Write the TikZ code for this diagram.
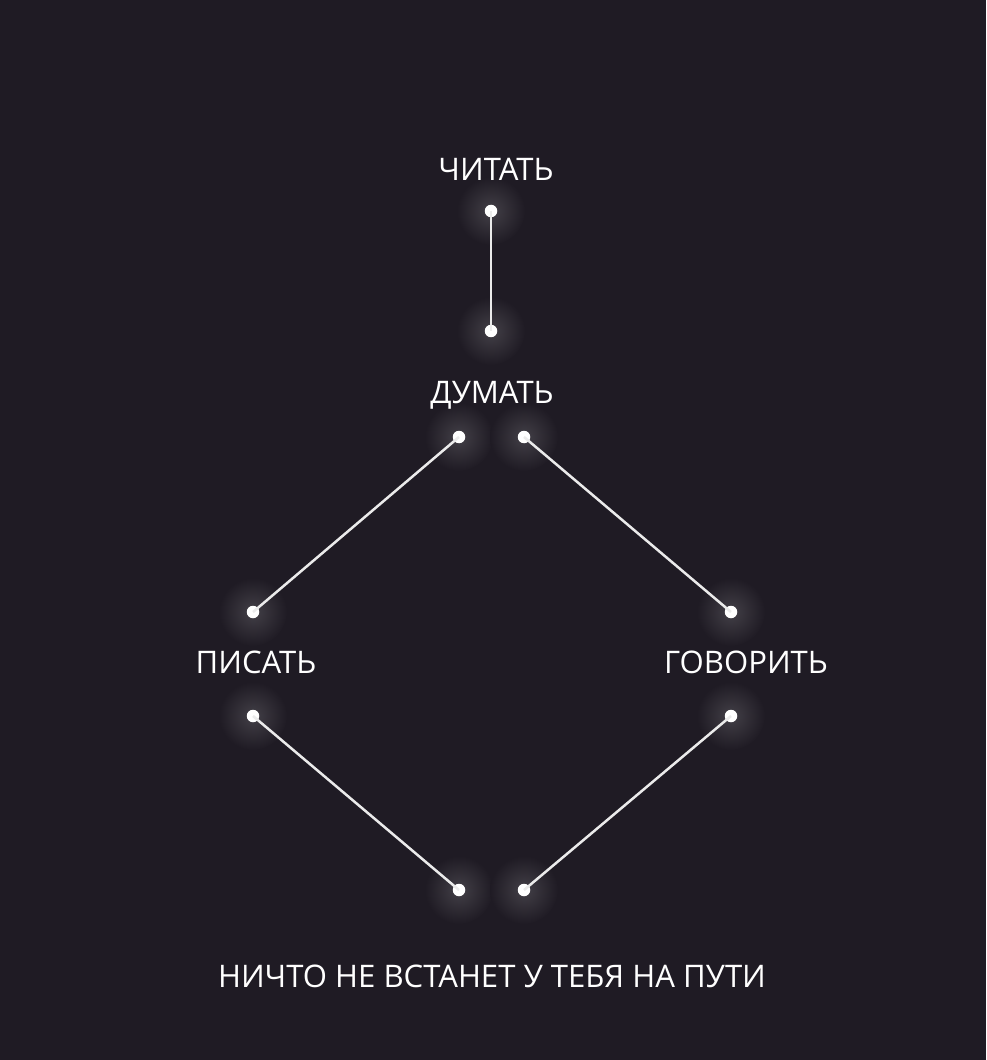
\documentclass[tikz,border=0pt]{standalone}
\usepackage{fontspec}
\setmainfont{Open Sans}
\usetikzlibrary{calc}
\definecolor{bg}{RGB}{31,27,36}
\tikzset{
  dot/.style={circle, fill=white, inner sep=0pt, minimum size=0.25cm},
  word/.style={text=white, font=\fontsize{17.7}{20}\selectfont},
  link/.style={white!92!black, line width=0.05cm}
}

\begin{document}
\begin{tikzpicture}[x=0.02cm, y=-0.02cm]
% Фон
\fill[bg] (0,0) rectangle (986,1060);

% Свечение вокруг точек
\foreach \p in {(491,211),(491,331),(459,437),(524,437),(253,612),(731,612),(253,716),(731,716),(459,890),(524,890)} {
    \shade[inner color=white!16!bg, outer color=bg] \p circle (34);
}

% Слова
\node[word] (read) at (496,169) {ЧИТАТЬ};
\node[word] (think) at (492,395) {ДУМАТЬ};
\node[word] (write) at (256,662) {ПИСАТЬ};
\node[word] (speak) at (746,662) {ГОВОРИТЬ};
\node[word] (way) at (492,976) {НИЧТО НЕ ВСТАНЕТ У ТЕБЯ НА ПУТИ};

% Точки
\node[dot] (r1) at (491,211) {};
\node[dot] (r2) at (491,331) {};
\node[dot] (t1) at (459,437) {};
\node[dot] (t2) at (524,437) {};
\node[dot] (w1) at (253,612) {};
\node[dot] (s1) at (731,612) {};
\node[dot] (w2) at (253,716) {};
\node[dot] (s2) at (731,716) {};
\node[dot] (b1) at (459,890) {};
\node[dot] (b2) at (524,890) {};

% Линии
\draw[link] (r1.center) -- (r2.center);
\draw[link] (t1.center) -- (w1.center);
\draw[link] (t2.center) -- (s1.center);
\draw[link] (w2.center) -- (b1.center);
\draw[link] (s2.center) -- (b2.center);
\end{tikzpicture}
\end{document}
